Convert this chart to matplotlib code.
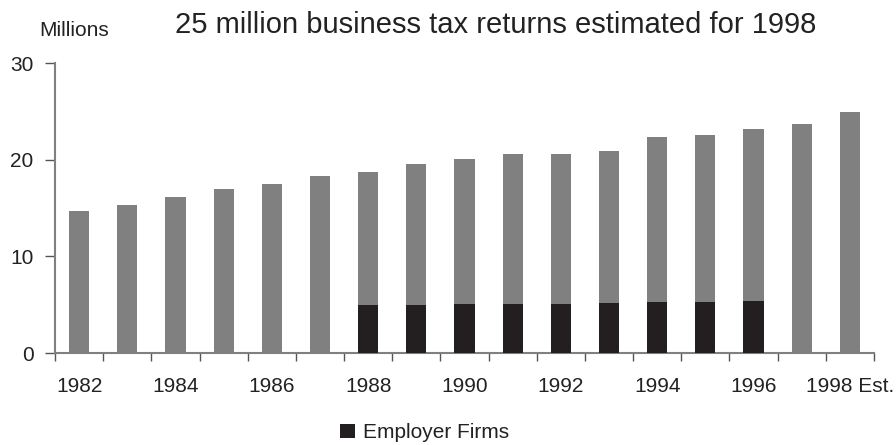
import matplotlib
matplotlib.use("Agg")
import matplotlib.pyplot as plt
import numpy as np

plt.rcParams['font.family'] = ['Liberation Sans', 'DejaVu Sans']

# data (millions of returns)
years = ['1982', '1983', '1984', '1985', '1986', '1987', '1988', '1989', '1990',
         '1991', '1992', '1993', '1994', '1995', '1996', '1997', '1998 Est.']
total = [14.65, 15.3, 16.1, 17.0, 17.5, 18.3, 18.7, 19.6, 20.05,
         20.6, 20.6, 20.9, 22.3, 22.6, 23.2, 23.7, 24.95]
employer = [0, 0, 0, 0, 0, 0, 5.0, 5.0, 5.1, 5.1, 5.1, 5.2, 5.3, 5.3, 5.4, 0, 0]

gray = '#808080'
black = '#231f20'
txt = '#222222'

fig = plt.figure(figsize=(8.96, 4.45), dpi=100)
ax = fig.add_axes([0.0614, 0.2067, 0.914, 0.6517])

x = np.arange(len(years))
w = 0.42
ax.bar(x, total, width=w, color=gray, zorder=2)
emp_bars = ax.bar(x, employer, width=w, color=black, zorder=3, label='Employer Firms')

ax.set_xlim(-0.5, len(years) - 0.5)
ax.set_ylim(0, 30)
ax.set_yticks([0, 10, 20, 30])
ax.tick_params(axis='y', direction='out', length=7, width=1, color='#555555',
               labelsize=15, labelcolor=txt, pad=8.5)

# tick marks at category boundaries, labels on every other year
ax.set_xticks(np.arange(-0.5, len(years), 1.0))
ax.set_xticklabels([])
ax.tick_params(axis='x', which='major', direction='out', length=6, width=1, color='#555555')
ax.set_xticks(x[::2], minor=True)
ax.set_xticklabels(years[::2], minor=True)
ax.tick_params(axis='x', which='minor', length=0, labelsize=15, labelcolor=txt, pad=17)

for s in ['top', 'right']:
    ax.spines[s].set_visible(False)
for s in ['left', 'bottom']:
    ax.spines[s].set_color(gray)
    ax.spines[s].set_linewidth(1.5)

fig.text(0.553, 0.944, '25 million business tax returns estimated for 1998',
         ha='center', va='center', fontsize=21, color=txt)
fig.text(0.083, 0.932, 'Millions', ha='center', va='center', fontsize=15, color=txt)

leg = fig.legend(handles=[emp_bars], loc='center', bbox_to_anchor=(0.474, 0.027),
                 frameon=False, fontsize=15, handlelength=0.7, handleheight=0.7,
                 handletextpad=0.4)
for t in leg.get_texts():
    t.set_color(txt)

fig.savefig('out.png', dpi=100)
